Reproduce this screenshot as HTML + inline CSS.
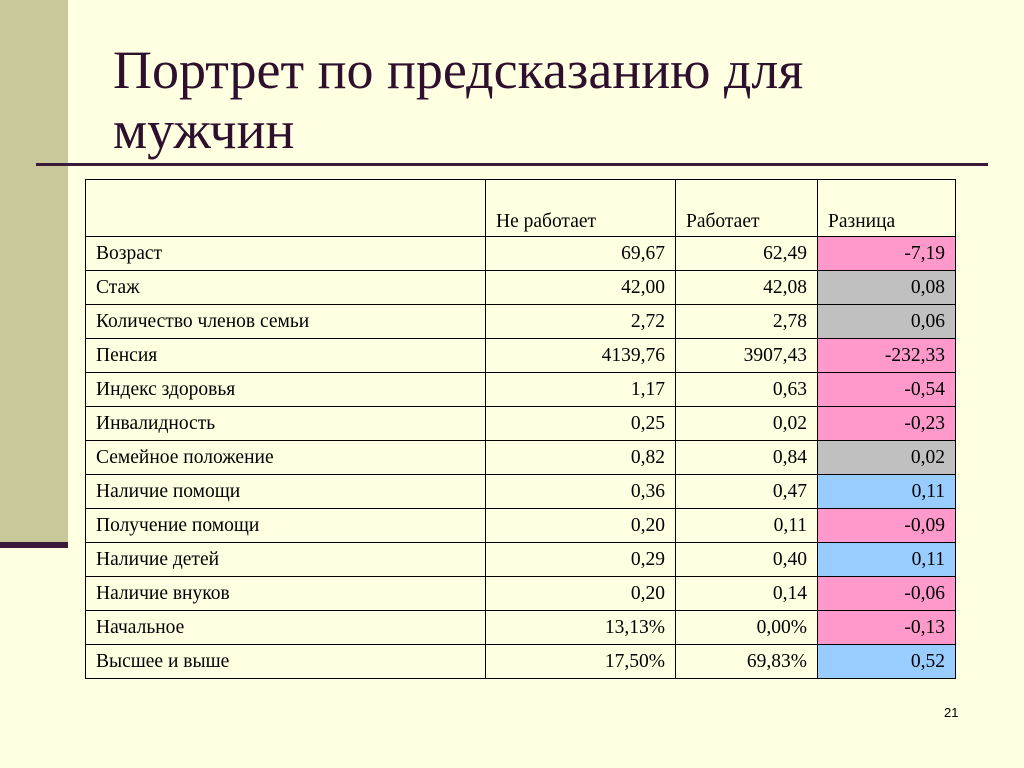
<!DOCTYPE html>
<html><head><meta charset="utf-8"><style>
body{margin:0;width:1024px;height:768px;background:#FFFFE1;position:relative;overflow:hidden;font-family:"Liberation Serif",serif}
.bar{position:absolute;left:0;top:0;width:68px;height:542px;background:#C8C89A}
.bl{position:absolute;left:0;top:542px;width:68px;height:6px;background:#3A1A3A}
h1{position:absolute;left:113px;top:40px;margin:0;font-weight:normal;font-size:54px;line-height:60px;color:#2E0F2E;white-space:nowrap}
.hl{position:absolute;left:36px;top:163px;width:952px;height:3px;background:#3A1A3A}
table{position:absolute;left:85px;top:179px;border-collapse:collapse;font-size:19.5px;color:#000}
td{border:1.5px solid #000;padding:0 10px;height:33px;line-height:20px}
tr.h td{height:52px;vertical-align:bottom;padding-bottom:4px}
td.n{text-align:right}
.p{background:#FF99CC}.b{background:#99CCFF}.g{background:#C0C0C0}
.num{position:absolute;left:944px;top:705px;font-family:"Liberation Sans",sans-serif;font-size:13px}
</style></head><body>
<div class="bar"></div>
<div class="bl"></div>
<h1>Портрет по предсказанию для<br>мужчин</h1>
<div class="hl"></div>
<table>
<colgroup><col style="width:400px"><col style="width:190px"><col style="width:142px"><col style="width:138px"></colgroup>
<tr class="h"><td></td><td>Не работает</td><td>Работает</td><td>Разница</td></tr>
<tr><td>Возраст</td><td class="n">69,67</td><td class="n">62,49</td><td class="n p">-7,19</td></tr>
<tr><td>Стаж</td><td class="n">42,00</td><td class="n">42,08</td><td class="n g">0,08</td></tr>
<tr><td>Количество членов семьи</td><td class="n">2,72</td><td class="n">2,78</td><td class="n g">0,06</td></tr>
<tr><td>Пенсия</td><td class="n">4139,76</td><td class="n">3907,43</td><td class="n p">-232,33</td></tr>
<tr><td>Индекс здоровья</td><td class="n">1,17</td><td class="n">0,63</td><td class="n p">-0,54</td></tr>
<tr><td>Инвалидность</td><td class="n">0,25</td><td class="n">0,02</td><td class="n p">-0,23</td></tr>
<tr><td>Семейное положение</td><td class="n">0,82</td><td class="n">0,84</td><td class="n g">0,02</td></tr>
<tr><td>Наличие помощи</td><td class="n">0,36</td><td class="n">0,47</td><td class="n b">0,11</td></tr>
<tr><td>Получение помощи</td><td class="n">0,20</td><td class="n">0,11</td><td class="n p">-0,09</td></tr>
<tr><td>Наличие детей</td><td class="n">0,29</td><td class="n">0,40</td><td class="n b">0,11</td></tr>
<tr><td>Наличие внуков</td><td class="n">0,20</td><td class="n">0,14</td><td class="n p">-0,06</td></tr>
<tr><td>Начальное</td><td class="n">13,13%</td><td class="n">0,00%</td><td class="n p">-0,13</td></tr>
<tr><td>Высшее и выше</td><td class="n">17,50%</td><td class="n">69,83%</td><td class="n b">0,52</td></tr>
</table>
<div class="num">21</div>
</body></html>
